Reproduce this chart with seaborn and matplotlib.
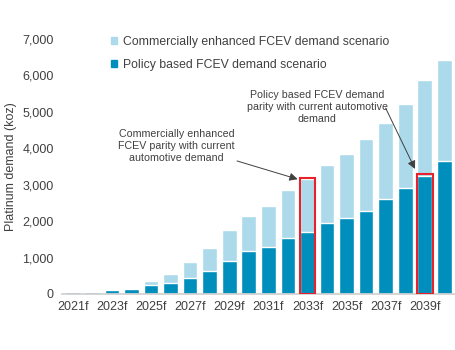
import pandas as pd
import matplotlib.pyplot as plt
import seaborn as sns
from matplotlib.patches import Patch, Rectangle

anos = [f'{a}f' for a in range(2021, 2041)]
comercial = [65, 65, 120, 145, 360, 550, 890, 1270, 1760, 2140,
             2420, 2840, 3150, 3550, 3850, 4260, 4700, 5210, 5880, 6430]
politica = [65, 65, 110, 145, 250, 300, 450, 640, 905, 1180,
            1300, 1530, 1695, 1960, 2095, 2280, 2600, 2905, 3250, 3640]
rotulos = ['Commercially enhanced FCEV demand scenario',
           'Policy based FCEV demand scenario']

df = pd.DataFrame({'Ano': anos, 'Comercial': comercial, 'Politica': politica})

sns.set_theme(style='white')
plt.rcParams['font.family'] = ['Liberation Sans', 'DejaVu Sans']

cor_clara = '#acdaea'
cor_escura = '#008fbd'
cinza = '#404040'

fig = plt.figure(figsize=(4.56, 3.5), dpi=100)
ax = fig.add_axes([0.136, 0.16, 0.862, 0.729])

sns.barplot(data=df, x='Ano', y='Comercial', color=cor_clara, width=0.75,
            saturation=1, ax=ax)
sns.barplot(data=df, x='Ano', y='Politica', color=cor_escura, width=0.75,
            saturation=1, ax=ax)

ax.set_ylim(0, 7000)
ax.set_xlim(-0.55, len(anos) - 0.45)
ax.set_yticks(range(0, 7001, 1000))
ax.set_yticklabels([f'{v:,}' for v in range(0, 7001, 1000)], fontsize=9, color=cinza)
ax.set_xticks(range(0, len(anos), 2))
ax.set_xticklabels(anos[::2], fontsize=9, color=cinza)
ax.set_xticks([i - 0.5 for i in range(len(anos) + 1)], minor=True)
ax.tick_params(axis='x', which='major', length=0, pad=5)
ax.tick_params(axis='x', which='minor', length=3, color='#d0d0d0', width=0.8)
ax.tick_params(axis='y', length=0, pad=6)
ax.set_xlabel('')
ax.set_ylabel('Platinum demand (koz)', fontsize=9, color=cinza, labelpad=4)

sns.despine(left=True)
ax.spines['bottom'].set_color('#d0d0d0')

# caixas vermelhas
i1 = anos.index('2033f')
ax.add_patch(Rectangle((i1 - 0.4, 0), 0.8, comercial[i1] + 40, fill=False,
                       edgecolor='#e8212b', lw=1.5, zorder=5))
i2 = anos.index('2039f')
ax.add_patch(Rectangle((i2 - 0.4, 0), 0.8, politica[i2] + 40, fill=False,
                       edgecolor='#e8212b', lw=1.5, zorder=5))

seta = dict(arrowstyle='-|>', color=cinza, lw=0.7, mutation_scale=12, shrinkA=0, shrinkB=0)
ax.text(5.3, 4060, 'Commercially enhanced\nFCEV parity with current\nautomotive demand',
        ha='center', va='center', fontsize=7.7, color=cinza, linespacing=1.2)
ax.annotate('', xy=(i1 - 0.5, comercial[i1]), xytext=(8.4, 3650), arrowprops=seta)
ax.text(12.5, 5130, 'Policy based FCEV demand\nparity with current automotive\ndemand',
        ha='center', va='center', fontsize=7.7, color=cinza, linespacing=1.2)
ax.annotate('', xy=(i2 - 0.5, politica[i2] + 180), xytext=(16.0, 5100), arrowprops=seta)

handles = [Patch(color=cor_clara), Patch(color=cor_escura)]
fig.legend(handles, rotulos, loc='upper left', bbox_to_anchor=(0.22, 0.93),
           frameon=False, fontsize=8.8, handlelength=0.5, handleheight=0.5,
           handletextpad=0.45, labelspacing=0.95, labelcolor=cinza)

fig.savefig('out.png', dpi=100)
